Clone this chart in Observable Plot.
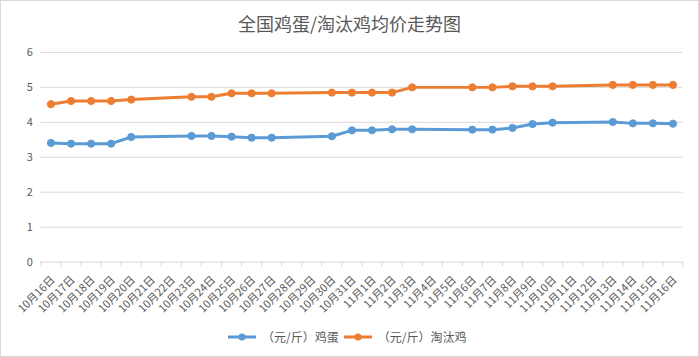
<!DOCTYPE html>
<html>
<head>
<meta charset="utf-8">
<script src="https://cdn.jsdelivr.net/npm/d3@7"></script>
<script src="https://cdn.jsdelivr.net/npm/@observablehq/plot@0.6"></script>
<style>
  body { margin: 0; background: #fff; }
  #wrap { position: relative; width: 699px; height: 357px; box-sizing: border-box; border: 1px solid #d9d9d9; background: #fff; overflow: hidden;
          font-family: "Noto Sans CJK SC", "Noto Sans", sans-serif; color: #595959; }
  #title { position: absolute; left: 0; top: 11px; width: 697px; text-align: center; font-size: 18px; line-height: 22px; color: #595959; }
  #chart { position: absolute; left: -1px; top: -1px; }
  #legend { position: absolute; left: 226px; top: 328px; height: 16px; display: flex; align-items: center; font-size: 12px; line-height: 16px; color: #595959; white-space: nowrap; }
  #legend .item { display: flex; align-items: center; }
  #legend svg { margin-right: 5px; }
</style>
</head>
<body>
<div id="wrap">
  <div id="title">全国鸡蛋/淘汰鸡均价走势图</div>
  <div id="chart"></div>
  <div id="legend"></div>
</div>
<script>
const categories = ["10月16日","10月17日","10月18日","10月19日","10月20日","10月21日","10月22日","10月23日","10月24日","10月25日","10月26日","10月27日","10月28日","10月29日","10月30日","10月31日","11月1日","11月2日","11月3日","11月4日","11月5日","11月6日","11月7日","11月8日","11月9日","11月10日","11月11日","11月12日","11月13日","11月14日","11月15日","11月16日"];
const priceDates = ["10月16日","10月17日","10月18日","10月19日","10月20日","10月23日","10月24日","10月25日","10月26日","10月27日","10月30日","10月31日","11月1日","11月2日","11月3日","11月6日","11月7日","11月8日","11月9日","11月10日","11月13日","11月14日","11月15日","11月16日"];
const eggPrices = [3.41,3.39,3.39,3.39,3.58,3.61,3.61,3.59,3.56,3.56,3.60,3.77,3.77,3.80,3.80,3.79,3.79,3.84,3.95,3.99,4.01,3.97,3.97,3.96];
const henPrices = [4.52,4.61,4.61,4.61,4.65,4.73,4.73,4.83,4.83,4.83,4.85,4.85,4.85,4.85,5.00,5.00,5.00,5.03,5.03,5.03,5.07,5.07,5.07,5.07];
const seriesNames = ["（元/斤）鸡蛋", "（元/斤）淘汰鸡"];
const yTicks = [0,1,2,3,4,5,6];

const colors = ["#5B9BD5", "#ED7D31"];
const idx = (d) => categories.indexOf(d);
const egg = priceDates.map((d, i) => ({i: idx(d), v: eggPrices[i]}));
const hen = priceDates.map((d, i) => ({i: idx(d), v: henPrices[i]}));
const labels = categories.map((c, i) => ({i, c}));
const boundaries = d3.range(categories.length + 1).map(k => k - 0.5);

const textColor = "#595959";
const gridColor = "#d9d9d9";

const plot = Plot.plot({
  width: 699,
  height: 357,
  marginLeft: 40.5,
  marginRight: 15.5,
  marginTop: 52,
  marginBottom: 95,
  style: {fontFamily: '"Noto Sans CJK SC", "Noto Sans", sans-serif', background: "transparent", color: textColor, overflow: "visible"},
  x: {type: "linear", domain: [-0.5, categories.length - 0.5], axis: null, label: null},
  y: {domain: [0, 6], axis: null, label: null},
  marks: [
    Plot.ruleY(yTicks, {stroke: gridColor, strokeWidth: 1}),
    Plot.axisX({ticks: boundaries, tickSize: 5, tickFormat: () => "", stroke: gridColor, strokeOpacity: 1, label: null}),
    Plot.axisY({ticks: yTicks, tickSize: 0, tickPadding: 8, fontSize: 11, color: textColor, tickFormat: d => String(d), label: null}),
    Plot.text(labels, {x: "i", y: () => 0, text: "c", rotate: -45, textAnchor: "end", lineAnchor: "middle", dx: 2, dy: 16, fontSize: 11, fill: textColor}),
    Plot.line(egg, {x: "i", y: "v", stroke: colors[0], strokeWidth: 3, strokeLinejoin: "round", strokeLinecap: "round"}),
    Plot.dot(egg, {x: "i", y: "v", r: 3.6, fill: colors[0], stroke: colors[0], strokeWidth: 1}),
    Plot.line(hen, {x: "i", y: "v", stroke: colors[1], strokeWidth: 3, strokeLinejoin: "round", strokeLinecap: "round"}),
    Plot.dot(hen, {x: "i", y: "v", r: 3.6, fill: colors[1], stroke: colors[1], strokeWidth: 1})
  ]
});
document.getElementById("chart").appendChild(plot);

const legend = document.getElementById("legend");
seriesNames.forEach((name, k) => {
  const item = document.createElement("div");
  item.className = "item";
  if (k > 0) item.style.marginLeft = "4px";
  item.innerHTML = `<svg width="30" height="10"><line x1="1" y1="5" x2="29" y2="5" stroke="${colors[k]}" stroke-width="3"/><circle cx="15" cy="5" r="3.6" fill="${colors[k]}"/></svg><span>${name}</span>`;
  legend.appendChild(item);
});
</script>
</body>
</html>
